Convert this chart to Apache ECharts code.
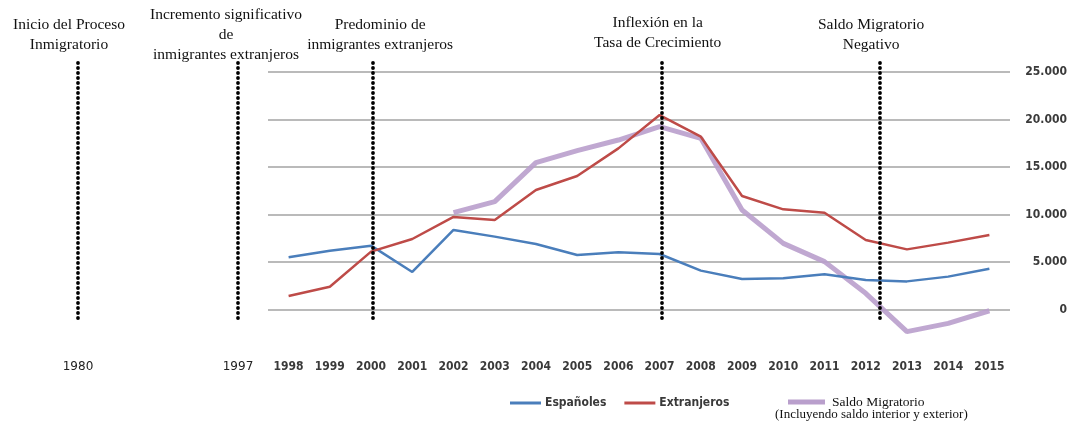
<!DOCTYPE html>
<html>
<head>
<meta charset="utf-8">
<title>Saldo migratorio</title>
<script src="https://cdn.jsdelivr.net/npm/echarts@6/dist/echarts.min.js"></script>
<style>
  html, body { margin: 0; padding: 0; background: #fff; }
  #chart { width: 1091px; height: 426px; }
</style>
</head>
<body>
<div id="chart"></div>
<script>
// datos
const years = ['1998', '1999', '2000', '2001', '2002', '2003', '2004', '2005', '2006',
  '2007', '2008', '2009', '2010', '2011', '2012', '2013', '2014', '2015']
const espanoles = [5490, 6190, 6720, 3950, 8370, 7670, 6890, 5740, 6020,
  5840, 4090, 3210, 3280, 3700, 3100, 2960, 3460, 4300]
const extranjeros = [1420, 2400, 6090, 7420, 9740, 9420, 12580, 14050, 16960,
  20470, 18190, 11950, 10540, 10190, 7320, 6330, 7040, 7840]
const saldo = [null, null, null, null, 10190, 11350, 15460, 16720, 17840,
  19250, 18020, 10470, 6960, 5040, 1700, -2330, -1460, -130]
const earlyYears = ['1980', '1997']
const hitos = [
  { year: 1980, text: 'Inicio del Proceso\nInmigratorio' },
  { year: 1997, text: 'Incremento significativo\nde\ninmigrantes extranjeros' },
  { year: 2000.05, text: 'Predominio de\ninmigrantes extranjeros' },
  { year: 2007.05, text: 'Inflexión en la\nTasa de Crecimiento' },
  { year: 2012.35, text: 'Saldo Migratorio\nNegativo' }
]
const yTicks = [0, 5000, 10000, 15000, 20000, 25000]

const chart = echarts.init(document.getElementById('chart'))

const sansBold = 'DejaVu Sans Condensed, DejaVu Sans'
const serif = 'Liberation Serif, DejaVu Serif'

// ajustes de cada etiqueta de hito
const hitoLabel = {
  1980: { offset: [-9, 0], distance: 7 },
  1997: { offset: [-12, 0], distance: -3 },
  2000.05: { offset: [7, 0], distance: 7 },
  2007.05: { offset: [-4, 0], distance: 9 },
  2012.35: { offset: [-9, 0], distance: 7 }
}

const fmtMiles = (v) => {
  if (v < 0) return ''
  return String(v).replace(/\B(?=(\d{3})+(?!\d))/g, '.')
}

// línea punteada de abajo hacia arriba, texto en el extremo superior
const buildMarkLine = (list, toCoord) => ({
  silent: true,
  symbol: ['none', 'none'],
  animation: false,
  lineStyle: { color: '#000', width: 3.8, type: [0.1, 4.9], cap: 'round' },
  label: {
    show: true,
    position: 'end',
    fontFamily: serif,
    fontSize: 15.5,
    lineHeight: 20,
    color: '#111',
    formatter: (p) => p.data.hitoText || ''
  },
  data: list.map((h) => [
    { coord: [toCoord(h.year), -900] },
    {
      coord: [toCoord(h.year), 26050],
      hitoText: h.text,
      label: hitoLabel[h.year]
    }
  ])
})

// eje Y: 0..25.000 visibles, margen arriba y abajo para las líneas de hitos
const yBase = {
  min: -5000,
  max: 26500,
  interval: 5000
}

const option = {
  animation: false,
  grid: [
    { left: 268, right: 81, top: 57.75, bottom: 69 },
    { left: 78, right: 1091 - 238, top: 57.75, bottom: 69 }
  ],
  xAxis: [
    {
      type: 'category',
      gridIndex: 0,
      data: years,
      boundaryGap: true,
      axisLine: { show: false },
      axisTick: { show: false },
      axisLabel: { margin: 4, fontFamily: sansBold, fontWeight: 'bold', fontSize: 12, color: '#3a3a3a' }
    },
    {
      type: 'value',
      gridIndex: 0,
      min: 1997.5,
      max: 2015.5,
      show: false
    },
    {
      type: 'category',
      gridIndex: 1,
      data: earlyYears,
      boundaryGap: false,
      axisLine: { show: false },
      axisTick: { show: false },
      axisLabel: { margin: 4, fontFamily: 'DejaVu Sans', fontSize: 12, color: '#222' }
    }
  ],
  yAxis: [
    {
      type: 'value',
      gridIndex: 0,
      position: 'right',
      ...yBase,
      axisLine: { show: false },
      axisTick: { show: false },
      axisLabel: {
        align: 'right',
        margin: 57,
        fontFamily: sansBold,
        fontWeight: 'bold',
        fontSize: 12,
        color: '#3a3a3a',
        formatter: (v) => (yTicks.includes(v) ? fmtMiles(v) : '')
      },
      splitLine: {
        show: true,
        showMinLine: false,
        showMaxLine: false,
        lineStyle: { color: '#a3a3a3', width: 1.5 }
      }
    },
    {
      type: 'value',
      gridIndex: 1,
      ...yBase,
      show: false
    }
  ],
  legend: [
    {
      left: 505,
      top: 392,
      icon: 'rect',
      itemWidth: 31,
      itemHeight: 3,
      itemGap: 18,
      data: ['Españoles', 'Extranjeros'],
      textStyle: { fontFamily: sansBold, fontWeight: 'bold', fontSize: 12, color: '#3a3a3a', padding: [0, 0, 0, -1] }
    },
    {
      left: 783,
      top: 390,
      icon: 'rect',
      itemWidth: 37,
      itemHeight: 5,
      data: ['Saldo Migratorio'],
      textStyle: { fontFamily: serif, fontSize: 13.5, color: '#111', padding: [0, 0, 0, 2] }
    }
  ],
  graphic: [
    {
      type: 'text',
      left: 775,
      top: 408,
      style: { text: '(Incluyendo saldo interior y exterior)', font: '13px ' + serif, fill: '#111' }
    }
  ],
  series: [
    {
      name: 'Saldo Migratorio',
      type: 'line',
      data: saldo,
      symbol: 'none',
      z: 1,
      lineStyle: { color: '#b99fcc', width: 5, opacity: 0.9 },
      itemStyle: { color: '#b99fcc' }
    },
    {
      name: 'Españoles',
      type: 'line',
      data: espanoles,
      symbol: 'none',
      z: 2,
      lineStyle: { color: '#4a7ebb', width: 2.5 },
      itemStyle: { color: '#4a7ebb' }
    },
    {
      name: 'Extranjeros',
      type: 'line',
      data: extranjeros,
      symbol: 'none',
      z: 3,
      lineStyle: { color: '#be4b48', width: 2.5 },
      itemStyle: { color: '#be4b48' }
    },
    {
      // hitos dentro del periodo 1998-2015
      name: 'hitos',
      type: 'line',
      xAxisIndex: 1,
      yAxisIndex: 0,
      data: [],
      z: 5,
      markLine: buildMarkLine(hitos.filter((h) => h.year >= 1998), (y) => y)
    },
    {
      // hitos 1980 y 1997
      name: 'hitosIniciales',
      type: 'line',
      xAxisIndex: 2,
      yAxisIndex: 1,
      data: [],
      z: 5,
      markLine: buildMarkLine(hitos.filter((h) => h.year < 1998), (y) => String(y))
    }
  ]
}

chart.setOption(option)
</script>
</body>
</html>
